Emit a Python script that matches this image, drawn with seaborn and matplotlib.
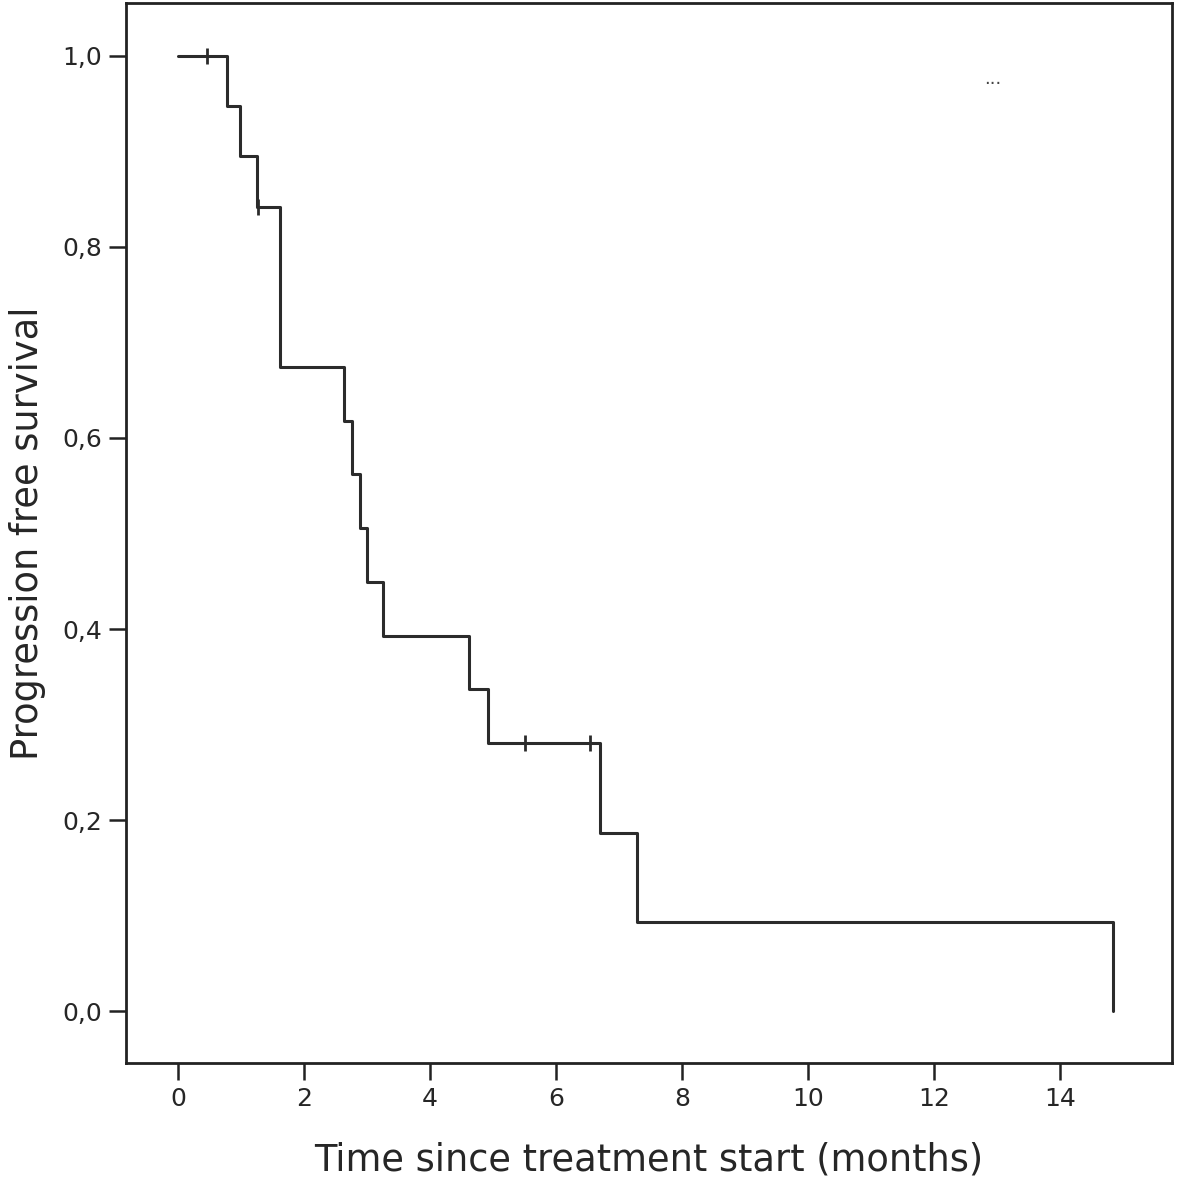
import matplotlib
matplotlib.use("Agg")
import matplotlib.pyplot as plt
import seaborn as sns
import pandas as pd

# Kaplan-Meier estimate
event_times = [0, 0.78, 0.98, 1.25, 1.62, 2.63, 2.76, 2.89, 3.00, 3.25, 4.62, 4.92, 6.70, 7.29, 14.84]
survival = [1.0, 0.947, 0.895, 0.842, 0.674, 0.618, 0.562, 0.506, 0.449, 0.393, 0.337, 0.281, 0.187, 0.094, 0.0]

# censored observations
censor_times = [0.46, 1.27, 5.51, 6.54]
censor_surv = [1.0, 0.842, 0.281, 0.281]

x_ticks = [0, 2, 4, 6, 8, 10, 12, 14]
y_ticks = [0.0, 0.2, 0.4, 0.6, 0.8, 1.0]

curve = pd.DataFrame({"time": event_times, "surv": survival})
cens = pd.DataFrame({"time": censor_times, "surv": censor_surv})

sns.set_style("ticks")
plt.rcParams["font.family"] = ["DejaVu Sans"]

fig = plt.figure(figsize=(11.79, 11.78), dpi=100)
ax = fig.add_axes([0.1069, 0.0976, 0.8871, 0.8999])

line_col = "#2b2b2b"
sns.lineplot(data=curve, x="time", y="surv", drawstyle="steps-post",
             color=line_col, linewidth=2.2, ax=ax, estimator=None, sort=False)
sns.scatterplot(data=cens, x="time", y="surv", marker="|", s=140,
                color=line_col, linewidth=2.0, ax=ax, zorder=3)

# leftover legend dots in the original
ax.text(12.94, 0.975, "...", fontsize=13, ha="center", va="center", color="#444444")

ax.set_xlim(-0.83, 15.78)
ax.set_ylim(-0.054, 1.055)
ax.set_xticks(x_ticks)
ax.set_xticklabels([str(v) for v in x_ticks])
ax.set_yticks(y_ticks)
ax.set_yticklabels([f"{v:.1f}".replace(".", ",") for v in y_ticks])

for sp in ax.spines.values():
    sp.set_linewidth(2.0)
    sp.set_color("#222222")
ax.tick_params(axis="both", length=12, width=1.8, labelsize=18, pad=5, color="#222222")

ax.set_xlabel("Time since treatment start (months)", fontsize=26.5, labelpad=22)
ax.set_ylabel("Progression free survival", fontsize=26.5, labelpad=12)

fig.savefig("out.png", dpi=100)
